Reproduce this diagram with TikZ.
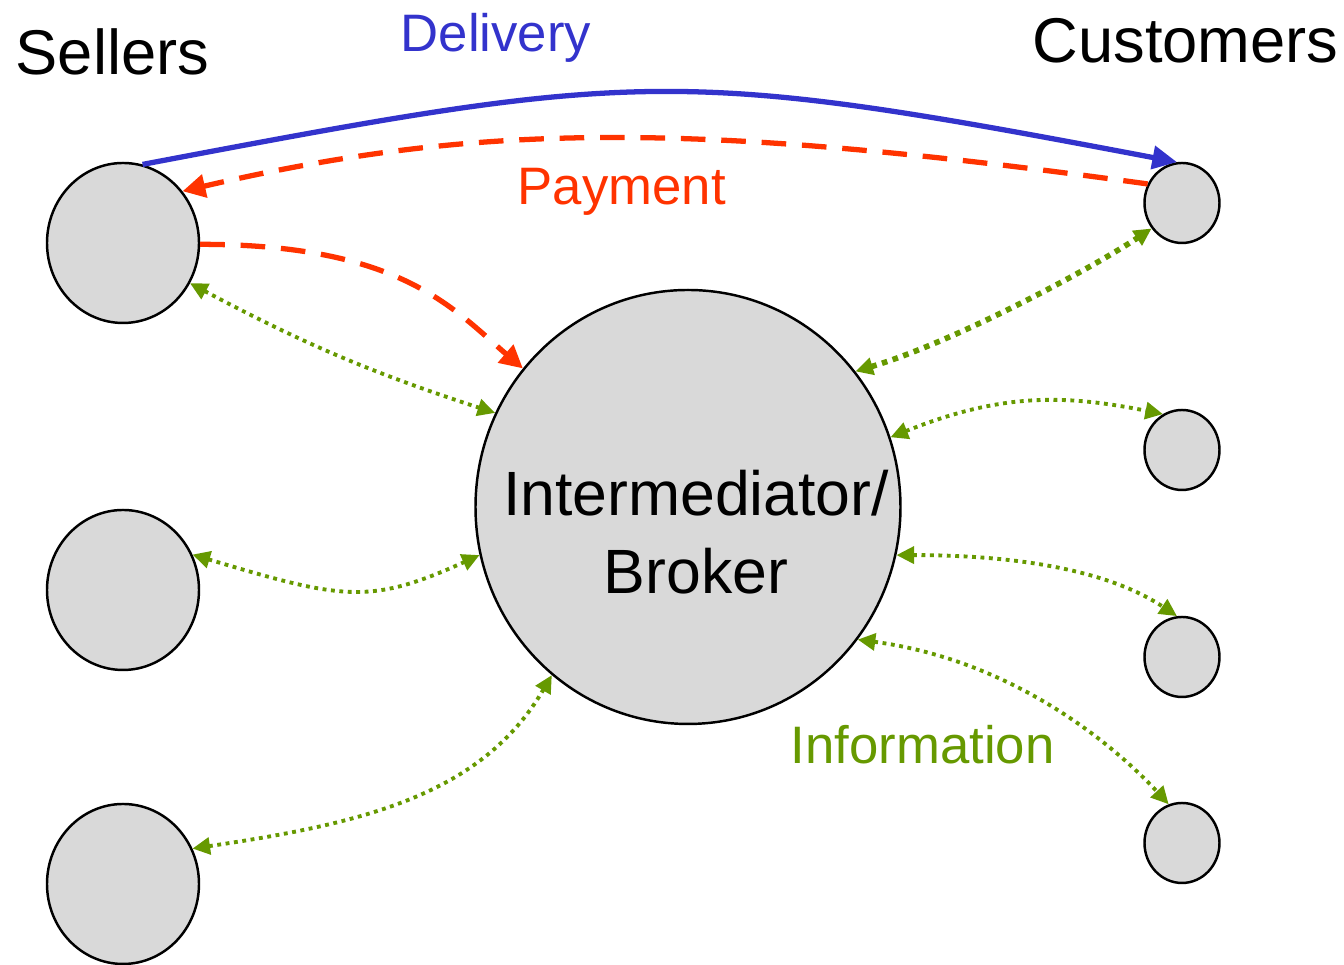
\documentclass[tikz,border=0pt]{standalone}
\usepackage{fontspec}
\setmainfont{Liberation Sans}
\usepackage{tikz}
\usetikzlibrary{arrows.meta,shapes.geometric}
\definecolor{boxgray}{HTML}{D9D9D9}
\definecolor{delblue}{HTML}{3333CC}
\definecolor{payred}{HTML}{FF3300}
\definecolor{infogreen}{HTML}{669900}

\begin{document}
\begin{tikzpicture}[
  seller/.style={ellipse,draw,fill=boxgray,line width=0.7pt,inner sep=0pt,minimum width=1.52cm,minimum height=1.6cm},
  customer/.style={ellipse,draw,fill=boxgray,line width=0.7pt,inner sep=0pt,minimum width=0.75cm,minimum height=0.8cm},
  broker/.style={ellipse,draw,fill=boxgray,line width=0.7pt,inner sep=0pt,minimum width=4.25cm,minimum height=4.34cm},
  title/.style={font=\fontsize{18}{21}\selectfont,inner sep=0pt},
  tag/.style={font=\fontsize{15}{18}\selectfont,inner sep=0pt},
  delivery/.style={draw=delblue,line width=1.5pt,-{Triangle[length=7pt,width=6.5pt]}},
  payment/.style={draw=payred,line width=1.5pt,dash pattern=on 7pt off 4.5pt,-{Triangle[length=6.5pt,width=6.5pt]}},
  info/.style={draw=infogreen,line width=1.1pt,dash pattern=on 1.1pt off 1.3pt,{Triangle[length=5pt,width=4.8pt]}-{Triangle[length=5pt,width=4.8pt]}},
  infothick/.style={info,line width=1.6pt,dash pattern=on 1.6pt off 1.6pt}
]
\useasboundingbox (0,0) rectangle (13.44,9.65);

\node[seller] (s1) at (1.23,7.22){};
\node[seller] (s2) at (1.23,3.75){};
\node[seller] (s3) at (1.23,0.81){};
\node[customer] (c1) at (11.82,7.62){};
\node[customer] (c2) at (11.82,5.15){};
\node[customer] (c3) at (11.82,3.08){};
\node[customer] (c4) at (11.82,1.22){};
\node[broker] (b) at (6.88,4.58){};

\node[title,anchor=base west] (sellers) at (0.15,8.90){Sellers};
\node[title,anchor=base west] (customers) at (10.32,9.02){Customers};
\node[tag,text=delblue,anchor=base west] (delivery) at (4.00,9.13){Delivery};
\node[tag,text=payred,anchor=base west] (payment) at (5.17,7.60){Payment};
\node[tag,text=infogreen,anchor=base west] (information) at (7.90,2.01){Information};
\node[font=\fontsize{17.8}{22.2}\selectfont,align=center,inner sep=0pt] (brokertext) at (6.96,4.33){Intermediator/\\Broker};

\draw[delivery] (s1.76) .. controls +(5,0.95) and +(-5,0.95) .. (c1.97);
\draw[payment] (c1.151) .. controls +(-4.5,0.62) and +(3,0.7) .. (s1.41);
\draw[payment] (s1.-1) .. controls +(2,0) and +(-0.7,0.6) .. (b.140);

\draw[info] (s1.-31) to[bend right=5] (b.154);
\draw[info] (s2.27) .. controls +(1.5,-0.45) and +(-1.1,-0.5) .. (b.193);
\draw[info] (s3.27) .. controls +(1.7,0.25) and +(-0.7,-1.2) .. (b.231);
\draw[infothick] (b.39) .. controls +(1,0.3) and +(-0.6,-0.4) .. (c1.220);
\draw[info] (b.19) .. controls +(1.1,0.44) and +(-1,0.2) .. (c2.118);
\draw[info] (b.-13) .. controls +(1.4,0) and +(-0.6,0.4) .. (c3.97);
\draw[info] (b.-38) .. controls +(1.5,-0.2) and +(-0.6,0.65) .. (c4.109);

\end{tikzpicture}
\end{document}
